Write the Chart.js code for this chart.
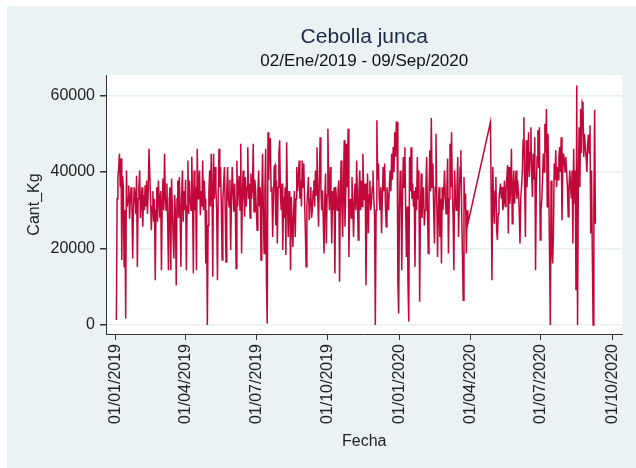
<!DOCTYPE html>
<html>
<head>
<meta charset="utf-8">
<script src="https://cdn.jsdelivr.net/npm/chart.js@4/dist/chart.umd.min.js"></script>
<style>
  html, body { margin: 0; padding: 0; background: #fff; }
  canvas { display: block; }
</style>
</head>
<body>
<canvas id="grafico" width="636" height="468"></canvas>
<script>
// dias contados desde 01/01/2019
const diaInicioTramo1 = 1;    // 02/01/2019
const diaInicioTramo2 = 482;  // 27/04/2020

// Cant_Kg diaria, 02/01/2019 - 29/03/2020
const cantKgTramo1 = [
  1300, 33000, 38700, 41000, 44800, 36000, 43500, 17000, 39000, 36000,
  15200, 30000, 1700, 40400, 31000, 33000, 36500, 27800, 33000, 36000,
  31500, 17400, 30500, 36000, 34000, 29000, 39000, 15200, 33000, 36000,
  40400, 28000, 32000, 36000, 25700, 34000, 30000, 36500, 31000, 37800,
  29000, 35000, 46100, 46100, 33000, 24800, 31000, 35000, 27000, 33000,
  11700, 30000, 36000, 27000, 37800, 33000, 28000, 35000, 14300, 32000,
  38300, 30000, 44800, 33000, 30000, 37000, 27000, 14300, 33000, 36000,
  14300, 38300, 31000, 23000, 17400, 34000, 29000, 10400, 33000, 37800,
  28000, 38700, 30000, 15200, 34000, 40400, 27000, 35000, 30000, 38000,
  14300, 31000, 43000, 29000, 37800, 33000, 30000, 44000, 33000, 13500,
  40400, 30000, 36000, 14300, 46100, 33000, 38000, 40400, 28700, 35000,
  31000, 43000, 30000, 37800, 33000, 16100, 30000, 0, 26000, 35000,
  40400, 31000, 44800, 35000, 12600, 44800, 33000, 41300, 36000, 30000,
  11700, 34000, 46100, 36000, 41300, 31000, 17000, 33000, 37000, 41300,
  30000, 16500, 35000, 41300, 33000, 30900, 38000, 19600, 33000, 41300,
  35000, 29600, 37000, 31000, 14800, 43000, 31000, 36100, 39000, 30000,
  47400, 18700, 33000, 40400, 34000, 28300, 38700, 31000, 36000, 46500,
  33000, 37000, 28000, 39600, 33000, 36000, 47400, 29600, 38000, 35700,
  30000, 24800, 35000, 40400, 31000, 36000, 17000, 33000, 44800, 30000,
  18700, 35000, 46100, 11700, 400, 50400, 38000, 48700, 48700, 35000,
  36100, 23000, 33000, 41300, 41800, 26100, 37800, 21300, 36000, 44800,
  48300, 34000, 30000, 37000, 19600, 33500, 28000, 36000, 18300, 47800,
  33000, 23000, 35000, 31700, 14300, 33500, 26000, 20400, 30000, 35000,
  23000, 33000, 41300, 35000, 38000, 43000, 33000, 37800, 31000, 43000,
  36000, 42200, 33000, 24800, 15200, 31000, 35000, 38700, 27400, 33000,
  36100, 28000, 30000, 35000, 37800, 31000, 40400, 34000, 46500, 33000,
  25700, 38000, 49100, 36000, 30000, 35200, 28000, 18700, 33000, 39600,
  21300, 34000, 51300, 36000, 30000, 41300, 33000, 21300, 35000, 30000,
  36000, 13500, 36100, 33000, 30000, 35000, 37800, 11300, 33000, 43000,
  31000, 23000, 36000, 48300, 25700, 35000, 47400, 36000, 51300, 17800,
  30000, 33000, 28000, 38700, 31000, 23000, 33000, 37000, 30000, 43000,
  33000, 22200, 35000, 40400, 30000, 37800, 31000, 44800, 36000, 32600,
  37000, 10400, 30000, 39600, 24000, 34000, 37800, 30000, 31700, 36000,
  40400, 33000, 29100, 0, 30000, 53500, 38000, 42200, 33000, 30000,
  36000, 24000, 33000, 41300, 35000, 42200, 31000, 25700, 36000, 33000,
  30000, 36000, 40400, 35000, 44800, 38000, 46500, 40000, 50400, 44000,
  53000, 53000, 10900, 3000, 30000, 40400, 33000, 14300, 35000, 43900,
  36000, 46500, 30000, 17800, 31000, 10900, 900, 43900, 35000, 46500,
  33000, 37000, 30900, 35000, 15200, 36100, 30000, 43900, 33000, 40400,
  6100, 30000, 39600, 28000, 33500, 36000, 26000, 30000, 36000, 43900,
  31000, 18700, 33000, 45700, 35000, 54100, 36000, 42200, 30000, 21300,
  36000, 50000, 33000, 17800, 30000, 36000, 23000, 33000, 16100, 36000,
  30000, 35000, 40400, 33000, 29100, 36000, 43500, 18700, 33000, 47400,
  36000, 50400, 36100, 28000, 14300, 40400, 33000, 30000, 36000, 43900,
  23000, 33000, 41300, 45700, 30000, 18700, 6500, 38700, 30000, 34400,
  18700, 30000, 26500
];

// Cant_Kg diaria, 27/04/2020 - 09/09/2020
const cantKgTramo2 = [
  53000, 32600, 11700, 41300, 33000, 26500, 35000, 38700, 24800, 22200,
  29100, 33000, 35200, 37000, 33000, 36100, 30000, 32200, 37800, 31000,
  34800, 38000, 41800, 23900, 41300, 31700, 36000, 46100, 26500, 35000,
  40400, 31700, 36000, 40400, 33000, 37800, 35000, 30000, 21300, 33000,
  36100, 40000, 48300, 54300, 36000, 23000, 48300, 36000, 41300, 50400,
  38700, 45000, 51700, 40000, 33500, 44800, 38000, 49100, 14300, 36000,
  44000, 50900, 41000, 51700, 22200, 30000, 32600, 38000, 44800, 40000,
  52600, 45000, 56500, 30900, 50000, 36000, 18700, 0, 37800, 20000,
  16100, 23900, 42200, 38000, 45700, 36000, 41300, 38000, 43900, 46500,
  40000, 49100, 27400, 40000, 44800, 43000, 40000, 43900, 40000, 36100,
  28300, 36000, 40400, 36100, 33000, 40400, 21300, 46100, 31700, 40400,
  9100, 62600, 0, 36000, 51700, 36100, 56500, 45000, 58300, 57800,
  43900, 50000, 46500, 43900, 40000, 47400, 49800, 45000, 52200, 23900,
  40400, 18700, 0, 31700, 56300, 26500
];

// marcas del eje de fechas
const diasMarca = [0, 90, 181, 273, 365, 456, 547, 639];
const etiquetasFecha = ['01/01/2019', '01/04/2019', '01/07/2019', '01/10/2019',
                        '01/01/2020', '01/04/2020', '01/07/2020', '01/10/2020'];
const marcasKg = [0, 20000, 40000, 60000];

let puntos = [];
cantKgTramo1.forEach((v, i) => puntos.push({ x: diaInicioTramo1 + i, y: v }));
cantKgTramo2.forEach((v, i) => puntos.push({ x: diaInicioTramo2 + i, y: v }));

const fuente = "'Liberation Sans', Arial, sans-serif";

// fondo estilo stata
const fondo = {
    id: 'fondo',
    beforeDraw(chart) {
        const { ctx, chartArea } = chart;
        ctx.save();
        ctx.fillStyle = '#ffffff';
        ctx.fillRect(0, 0, chart.width, chart.height);
        ctx.fillStyle = '#eaf2f3';
        ctx.fillRect(7, 6, chart.width - 7, chart.height - 6);
        ctx.fillStyle = '#ffffff';
        ctx.fillRect(chartArea.left, chartArea.top,
            chartArea.right - chartArea.left, chartArea.bottom - chartArea.top);
        ctx.restore();
    }
};

new Chart(document.getElementById('grafico'), {
    type: 'line',
    data: {
        datasets: [{
            label: 'Cant_Kg',
            data: puntos,
            borderColor: '#c2073a',
            borderWidth: 1.5,
            pointRadius: 0,
            tension: 0,
            fill: false
        }]
    },
    options: {
        responsive: false,
        animation: false,
        devicePixelRatio: 1,
        layout: { padding: { left: 7, right: 10, top: 6, bottom: 0 } },
        plugins: {
            legend: { display: false },
            tooltip: { enabled: false },
            title: {
                display: true,
                text: 'Cebolla junca',
                fullSize: false,
                color: '#1b2a4a',
                font: { family: fuente, size: 21, weight: 'normal' },
                padding: { top: 19, bottom: 0 }
            },
            subtitle: {
                display: true,
                text: '02/Ene/2019 - 09/Sep/2020',
                fullSize: false,
                color: '#111111',
                font: { family: fuente, size: 17, weight: 'normal' },
                padding: { top: 1, bottom: 3.4 }
            }
        },
        scales: {
            x: {
                type: 'linear',
                min: -12.3,
                max: 651.8,
                afterBuildTicks: (scale) => { scale.ticks = diasMarca.map(v => ({ value: v })); },
                afterFit: (scale) => { scale.height = 134; },
                ticks: {
                    autoSkip: false,
                    minRotation: 90,
                    maxRotation: 90,
                    padding: 4,
                    color: '#222',
                    font: { family: fuente, size: 16 },
                    callback: (value) => etiquetasFecha[diasMarca.indexOf(value)]
                },
                grid: { drawOnChartArea: false, tickColor: '#333', tickLength: 6 },
                border: { color: '#333', width: 1 },
                title: {
                    display: true,
                    text: 'Fecha',
                    color: '#222',
                    font: { family: fuente, size: 16 },
                    padding: { top: 0, bottom: 17 }
                }
            },
            y: {
                min: -2350,
                max: 65360,
                afterBuildTicks: (scale) => { scale.ticks = marcasKg.map(v => ({ value: v })); },
                afterFit: (scale) => { scale.width = 99; },
                ticks: {
                    padding: 5,
                    color: '#222',
                    font: { family: fuente, size: 16 },
                    callback: (value) => String(value)
                },
                grid: { color: '#e8f0f2', lineWidth: 1.5, tickColor: '#333', tickLength: 6 },
                border: { color: '#333', width: 1 },
                title: {
                    display: true,
                    text: 'Cant_Kg',
                    color: '#222',
                    font: { family: fuente, size: 16 },
                    padding: { top: 18, bottom: 0 }
                }
            }
        }
    },
    plugins: [fondo]
});
</script>
</body>
</html>
